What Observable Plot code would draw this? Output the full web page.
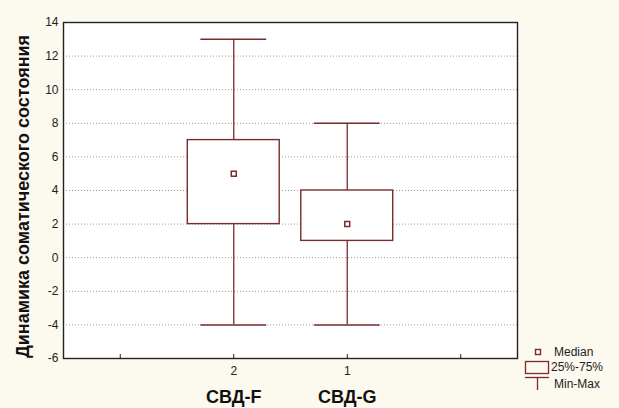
<!DOCTYPE html>
<html><head><meta charset="utf-8">
<script src="https://cdn.jsdelivr.net/npm/d3@7"></script>
<script src="https://cdn.jsdelivr.net/npm/@observablehq/plot@0.6"></script>
<style>
body{margin:0;background:#fcf9ef;font-family:"Liberation Sans",Arial,sans-serif;}
#wrap{position:relative;width:619px;height:408px;overflow:hidden;}
</style></head>
<body><div id="wrap"></div>
<script>
const categories = ["СВД-F", "СВД-G"];
const tickLabels = ["2", "1"];
const positions = [2, 3];
const minVals = [-4, -4];
const q1Vals = [2, 1];
const medians = [5, 2];
const q3Vals = [7, 4];
const maxVals = [13, 8];
const yTicks = [-6, -4, -2, 0, 2, 4, 6, 8, 10, 12, 14];
const yTitle = "Динамика соматического состояния";
const legendItems = ["Median", "25%-75%", "Min-Max"];

const color = "#7a2c2c";
const boxHalf = 0.405, capHalf = 0.29;
const data = categories.map((c, i) => ({cat: c, pos: positions[i], label: tickLabels[i],
  min: minVals[i], q1: q1Vals[i], med: medians[i], q3: q3Vals[i], max: maxVals[i]}));
const labelMap = new Map(data.map(d => [d.pos, d.label]));

const chart = Plot.plot({
  width: 619, height: 408,
  marginLeft: 63, marginRight: 102, marginTop: 22, marginBottom: 50,
  style: {background: "transparent", fontFamily: "Liberation Sans, Arial, sans-serif"},
  x: {domain: [0.5, 4.5]},
  y: {domain: [-6, 14]},
  marks: [
    Plot.frame({fill: "white", stroke: "none"}),
    Plot.gridY(yTicks.slice(1, -1), {stroke: "#999", strokeOpacity: 1, strokeDasharray: "1,2"}),
    Plot.ruleX(data, {x: "pos", y1: "q3", y2: "max", stroke: color, strokeWidth: 1.3}),
    Plot.ruleX(data, {x: "pos", y1: "min", y2: "q1", stroke: color, strokeWidth: 1.3}),
    Plot.ruleY(data, {y: "max", x1: d => d.pos - capHalf, x2: d => d.pos + capHalf, stroke: color, strokeWidth: 1.5}),
    Plot.ruleY(data, {y: "min", x1: d => d.pos - capHalf, x2: d => d.pos + capHalf, stroke: color, strokeWidth: 1.5}),
    Plot.rect(data, {x1: d => d.pos - boxHalf, x2: d => d.pos + boxHalf, y1: "q1", y2: "q3", fill: "white", stroke: color, strokeWidth: 1.4}),
    Plot.dot(data, {x: "pos", y: "med", symbol: "square", r: 2.8, fill: "white", stroke: color, strokeWidth: 1.5}),
    Plot.frame({stroke: "#222", strokeWidth: 1.4}),
    Plot.axisY(yTicks, {tickSize: 0, tickPadding: 5, fontSize: 12, color: "#222", label: null, tickFormat: d => String(d)}),
    Plot.axisX([1, 2, 3, 4], {tickSize: -4, tickPadding: 12, fontSize: 12, color: "#222", label: null,
      tickFormat: v => labelMap.get(v) ?? ""}),
    Plot.text(data, {x: "pos", text: "cat", frameAnchor: "bottom", dy: 44, fontSize: 18, fontWeight: "bold", fill: "#111"}),
    Plot.text([yTitle], {frameAnchor: "left", textAnchor: "middle", dx: -40, dy: 6, rotate: -90, fontSize: 18, fontWeight: "bold", fill: "#111"})
  ]
});
const wrap = document.getElementById("wrap");
wrap.appendChild(chart);

// legend overlay
const lg = d3.create("svg").attr("width", 619).attr("height", 408)
  .style("position", "absolute").style("left", "0px").style("top", "0px");
const g = lg.append("g").attr("transform", "translate(524,345)").attr("fill", "none").attr("stroke", color);
g.append("rect").attr("x", 11.5).attr("y", 4.5).attr("width", 5).attr("height", 5).attr("fill", "white").attr("stroke-width", 1.4);
g.append("rect").attr("x", 1.5).attr("y", 16.5).attr("width", 23).attr("height", 12).attr("fill", "none").attr("stroke-width", 1.3);
g.append("line").attr("x1", 1).attr("x2", 25).attr("y1", 32.5).attr("y2", 32.5).attr("stroke-width", 1.3);
g.append("line").attr("x1", 13.5).attr("x2", 13.5).attr("y1", 32.5).attr("y2", 45).attr("stroke-width", 1.3);
const ty = [7, 22, 39], tx = [30, 27, 30];
legendItems.forEach((t, i) => {
  lg.append("text").attr("x", 524 + tx[i]).attr("y", 345 + ty[i]).attr("dy", "0.35em")
    .attr("font-size", 12).attr("font-family", "Liberation Sans, Arial, sans-serif").attr("fill", "#222").text(t);
});
wrap.appendChild(lg.node());
</script></body></html>
